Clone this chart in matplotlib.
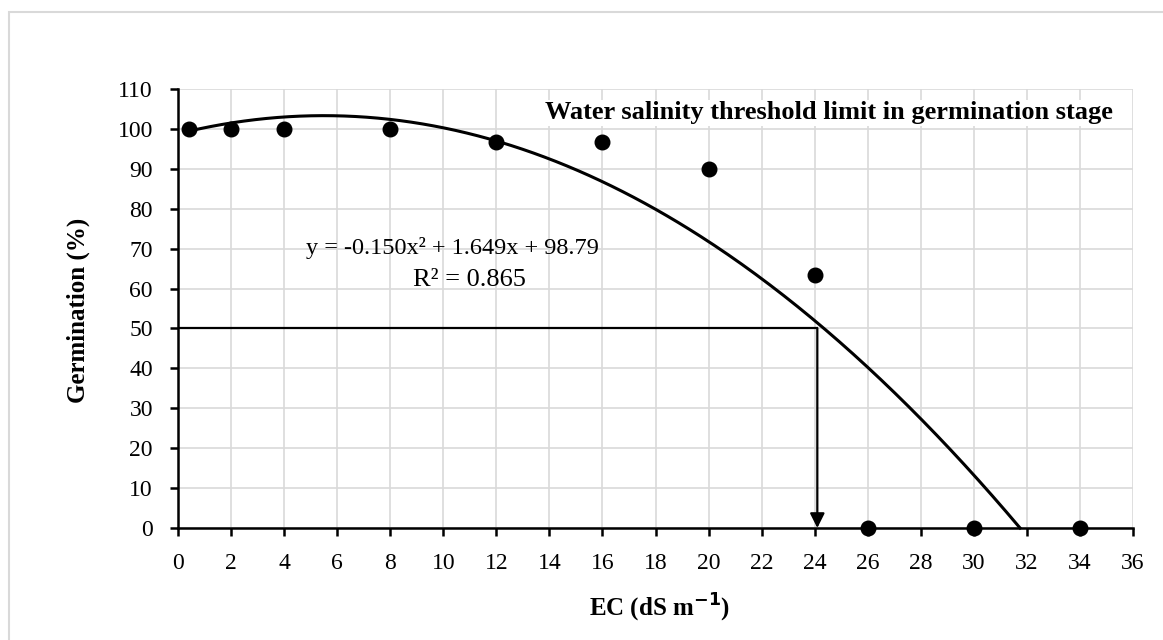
import numpy as np
import matplotlib
matplotlib.use("Agg")
import matplotlib.pyplot as plt
from matplotlib.patches import Rectangle

# Data
ec = [0.4, 2, 4, 8, 12, 16, 20, 24, 26, 30, 34]
germination = [100, 100, 100, 100, 96.7, 96.7, 90, 63.3, 0, 0, 0]
coef = [-0.150, 1.649, 98.79]
threshold_ec = 24.1
threshold_germ = 50
x_ticks = list(range(0, 37, 2))
y_ticks = list(range(0, 111, 10))

plt.rcParams['font.family'] = ['Liberation Serif', 'DejaVu Serif']

W, H = 1163, 640
def fx(px):
    return px / W
def fy(py):
    return 1 - py / H

fig = plt.figure(figsize=(11.63, 6.40), dpi=100)
fig.patches.append(Rectangle((fx(9), -0.1), 1.2, fy(12) + 0.1,
                             transform=fig.transFigure, fill=False,
                             edgecolor='#d9d9d9', linewidth=1.5))
ax = fig.add_axes([fx(178), fy(528), (1133 - 178) / W, (528 - 89) / H])

ax.set_xlim(0, 36)
ax.set_ylim(0, 110)
ax.set_xticks(x_ticks)
ax.set_yticks(y_ticks)
ax.grid(True, color='#d9d9d9', linewidth=1.2)
ax.set_axisbelow(True)
for s in ['top', 'right']:
    ax.spines[s].set_visible(False)
for s in ['left', 'bottom']:
    ax.spines[s].set_linewidth(1.8)
    ax.spines[s].set_color('black')
ax.tick_params(direction='out', length=6, width=1.8, labelsize=17)
ax.tick_params(axis='x', pad=12)
ax.tick_params(axis='y', pad=12)

# fitted curve
x_end = (-coef[1] - np.sqrt(coef[1]**2 - 4*coef[0]*coef[2])) / (2*coef[0])
xs = np.linspace(ec[0], x_end, 300)
ys = np.polyval(coef, xs)
ax.plot(xs, ys, color='black', linewidth=2.2, zorder=3, clip_on=False)

ax.scatter(ec, germination, s=110, color='black', zorder=4, clip_on=False)

# threshold lines
ax.plot([0, threshold_ec], [threshold_germ, threshold_germ], color='black', linewidth=1.6, zorder=3)
ax.annotate('', xy=(threshold_ec, 0), xytext=(threshold_ec, threshold_germ),
            arrowprops=dict(arrowstyle='-|>', color='black', lw=1.6,
                            mutation_scale=22, shrinkA=0, shrinkB=0), zorder=5)

fig.text(fx(452), fy(248), 'y = -0.150x² + 1.649x + 98.79',
         ha='center', va='center', fontsize=17.5)
fig.text(fx(469), fy(280), 'R² = 0.865', ha='center', va='center', fontsize=19)
fig.text(fx(1113), fy(113), 'Water salinity threshold limit in germination stage',
         ha='right', va='center', fontsize=19, fontweight='bold',
         bbox=dict(facecolor='white', edgecolor='none', pad=1), zorder=2)

fig.text(fx(660), fy(608), 'EC (dS m$^{\\mathbf{-1}}$)', ha='center', va='center',
         fontsize=18, fontweight='bold')
fig.text(fx(78), fy(310), 'Germination (%)', ha='center', va='center', rotation=90,
         fontsize=18, fontweight='bold')

fig.savefig('out.png', dpi=100)
